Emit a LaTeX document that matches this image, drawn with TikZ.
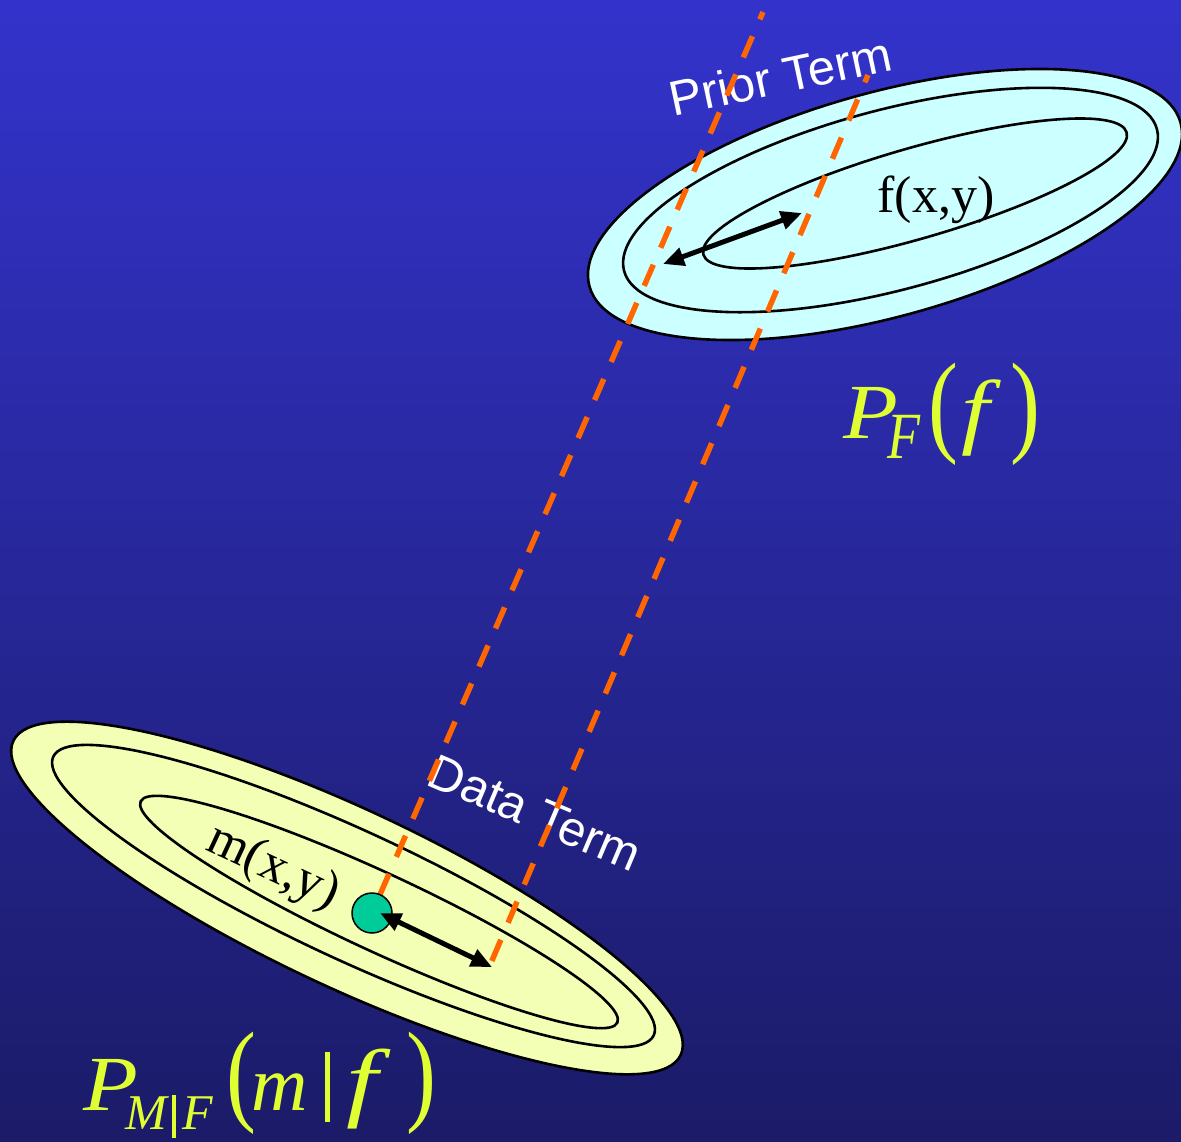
\documentclass[tikz,border=0pt]{standalone}
\usepackage{fontspec}
\setmainfont{Liberation Serif}
\newfontfamily\labelsans{Liberation Sans}
\usepackage{graphicx}
\usetikzlibrary{arrows.meta}
\definecolor{bgtop}{RGB}{51,51,204}
\definecolor{bgbot}{RGB}{27,27,104}
\definecolor{cyanfill}{RGB}{204,255,255}
\definecolor{yelfill}{RGB}{243,255,180}
\definecolor{dotgreen}{RGB}{0,204,153}
\definecolor{dashorange}{RGB}{255,102,0}
\definecolor{mathyellow}{RGB}{224,255,51}
\newcommand{\bigsz}{\fontsize{78}{78}\selectfont}
\newcommand{\subsz}{\fontsize{50}{50}\selectfont}
\newcommand{\tallparen}[1]{\scalebox{1.15}[1.45]{\upshape #1}}
\newcommand{\wideP}{\scalebox{1.15}[1]{P}}
\begin{document}
\begin{tikzpicture}[x=1pt,y=-1pt,
  levelline/.style={draw=black,line width=2.6pt},
  termlabel/.style={text=white,font=\labelsans\fontsize{49}{49}\selectfont,inner sep=0pt},
  funclabel/.style={text=black,font=\fontsize{52}{52}\selectfont,inner sep=0pt},
  problabel/.style={text=mathyellow,font=\bigsz\itshape,inner sep=0pt,anchor=base west},
  guide/.style={draw=dashorange,line width=5.5pt,dash pattern=on 23pt off 18.5pt,dash phase=15pt},
  dblarrow/.style={line width=5pt,{Triangle[length=21pt,width=18pt]}-{Triangle[length=21pt,width=18pt]}},
]
\shade[top color=bgtop,bottom color=bgbot] (0,0) rectangle (1181,1141);
\useasboundingbox (0,0) rectangle (1181,1141);

% prior distribution contours
\path[levelline,fill=cyanfill,shift={(885,204.5)},rotate=15.5] (0,0) ellipse [x radius=306.7,y radius=112];
\path[levelline,shift={(890.5,200)},rotate=14.9] (0,0) ellipse [x radius=275.7,y radius=90];
\path[levelline,shift={(915,193.5)},rotate=16.1] (0,0) ellipse [x radius=220.3,y radius=45.3];

% data distribution contours
\path[levelline,fill=yelfill,shift={(347,898)},rotate=-25.2] (0,0) ellipse [x radius=368.8,y radius=88.6];
\path[levelline,shift={(353.5,896)},rotate=-24.9] (0,0) ellipse [x radius=331,y radius=64.3];
\path[levelline,shift={(379,912)},rotate=-24.9] (0,0) ellipse [x radius=262.8,y radius=39];

% labels
\node[funclabel,anchor=base] (fxy) at (936,212) {f(x,y)};
\node[funclabel,rotate=-25] (mxy) at (273,868) {m(x,y)};
\node[termlabel,rotate=12] (prior) at (780,76) {Prior Term};
\node[termlabel,rotate=-23] (data) at (535,813) {Data Term};

% dashed guides
\coordinate (p1top) at (763,12);
\coordinate (p1bot) at (372,913);
\coordinate (p2top) at (868,75);
\coordinate (p2bot) at (488,970);
\draw[guide] (p1top) -- (p1bot);
\draw[guide] (p2top) -- (p2bot);

% measured point
\node[circle,draw=black,line width=1.5pt,fill=dotgreen,minimum size=40pt,inner sep=0pt] (mdot) at (372,913) {};

% arrows
\coordinate (a1) at (663,264);
\coordinate (a2) at (802,213);
\draw[dblarrow] (a1) -- (a2);
\coordinate (b1) at (380,913);
\coordinate (b2) at (492,967);
\draw[dblarrow] (b1) -- (b2);

% probability labels
\node[problabel] (pf) at (843,438) {\rlap{\wideP}\rlap{\hspace{44pt}\raisebox{-20pt}{\fontsize{60}{60}\selectfont\scalebox{0.9}[1.1]{F}}}\rlap{\hspace{85pt}\raisebox{-3pt}{\tallparen(}}\rlap{\hspace{118pt}\scalebox{1.3}[1.07]{f}}\hspace{167pt}\raisebox{-3pt}{\tallparen)}};
\node[problabel] (pmf) at (83,1110) {\rlap{\wideP}\rlap{\hspace{42pt}\raisebox{-19pt}{\subsz M}}\rlap{\hspace{89pt}\rule[-28pt]{3.5pt}{43pt}}\rlap{\hspace{99pt}\raisebox{-19pt}{\subsz F}}\rlap{\hspace{143.5pt}\tallparen(}\rlap{\hspace{168.5pt}m}\rlap{\hspace{242pt}\rule[-12pt]{4.5pt}{70pt}}\rlap{\hspace{263pt}\scalebox{1.45}[1.12]{f}}\hspace{323pt}\tallparen)};
\end{tikzpicture}
\end{document}
